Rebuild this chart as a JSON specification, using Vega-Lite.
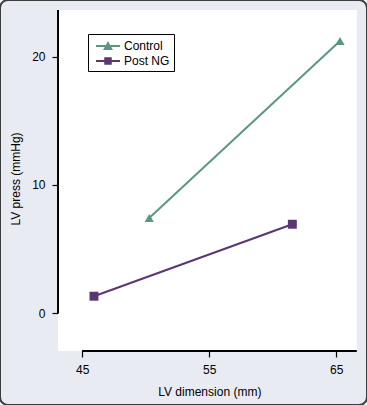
{
  "$schema": "https://vega.github.io/schema/vega-lite/v6.json",
  "width": 367,
  "height": 405,
  "autosize": {"type": "none"},
  "padding": 0,
  "background": "white",
  "view": {"fill": "#e8ecf2", "stroke": "#3c3c3c", "strokeWidth": 2, "cornerRadius": 8},
  "config": {
    "font": "Liberation Sans",
    "axis": {
      "domain": false,
      "grid": false,
      "labelFont": "Liberation Sans",
      "labelFontSize": 12,
      "labelColor": "black",
      "tickColor": "black",
      "tickWidth": 1.2,
      "titleFont": "Liberation Sans",
      "titleFontSize": 12,
      "titleFontWeight": "normal",
      "titleColor": "black"
    },
    "legend": {
      "labelFont": "Liberation Sans",
      "labelFontSize": 12,
      "labelColor": "black"
    }
  },
  "data": {
    "values": [
      {"series": "Control", "dimension": 50.27, "pressure": 7.42},
      {"series": "Control", "dimension": 65.29, "pressure": 21.23},
      {"series": "Post NG", "dimension": 45.92, "pressure": 1.33},
      {"series": "Post NG", "dimension": 61.54, "pressure": 6.94}
    ]
  },
  "layer": [
    {
      "mark": {"type": "rect", "fill": "white", "stroke": null},
      "encoding": {
        "x": {
          "datum": 43.1,
          "type": "quantitative",
          "scale": {"domain": [38.52, 67.42], "nice": false, "zero": false},
          "axis": {
            "orient": "bottom",
            "offset": -54,
            "values": [45, 55, 65],
            "tickSize": 6,
            "labelPadding": 7,
            "title": "LV dimension (mm)",
            "titleX": 209.3,
            "titleY": 44,
            "titleBaseline": "alphabetic",
            "titleAlign": "center"
          }
        },
        "x2": {"datum": 66.59},
        "y": {
          "datum": -2.94,
          "type": "quantitative",
          "scale": {"domain": [-7.15, 24.42], "nice": false, "zero": false},
          "axis": {
            "orient": "left",
            "offset": -58,
            "values": [0, 10, 20],
            "tickSize": 6,
            "labelPadding": 7,
            "title": "LV press (mmHg)",
            "titleAngle": -90,
            "titleX": -38.5,
            "titleY": 178.5,
            "titleBaseline": "alphabetic",
            "titleAlign": "center"
          }
        },
        "y2": {"datum": 23.64}
      }
    },
    {
      "mark": {"type": "rule", "color": "black", "strokeWidth": 1.5},
      "encoding": {
        "x": {"datum": 43.1, "type": "quantitative"},
        "y": {"datum": 0, "type": "quantitative"},
        "y2": {"datum": 23.64}
      }
    },
    {
      "mark": {"type": "rule", "color": "black", "strokeWidth": 1.5},
      "encoding": {
        "y": {"datum": -2.94, "type": "quantitative"},
        "x": {"datum": 45, "type": "quantitative"},
        "x2": {"datum": 66.59}
      }
    },
    {
      "mark": {"type": "line", "strokeWidth": 2},
      "encoding": {
        "x": {"field": "dimension", "type": "quantitative"},
        "y": {"field": "pressure", "type": "quantitative"},
        "color": {
          "field": "series",
          "type": "nominal",
          "scale": {"domain": ["Control", "Post NG"], "range": ["#5b9683", "#5a3673"]},
          "legend": {
            "orient": "none",
            "legendX": 88,
            "legendY": 34,
            "title": null,
            "padding": 4,
            "fillColor": "white",
            "strokeColor": "black",
            "symbolSize": 256,
            "symbolOffset": 8,
            "labelOffset": 8,
            "rowPadding": 1,
            "encode": {
              "symbols": {
                "update": {
                  "shape": {"signal": "datum.value === 'Control' ? 'M-1.5,-0.13H1.5V0.13H-1.5Z M0,-0.62L0.62,0.5H-0.62Z' : 'M-1.5,-0.13H1.5V0.13H-1.5Z M-0.47,-0.47H0.47V0.47H-0.47Z'"},
                  "fill": {"scale": "color", "field": "value"},
                  "stroke": {"value": "transparent"},
                  "strokeWidth": {"value": 0},
                  "opacity": {"value": 1},
                  "size": {"value": 256}
                }
              }
            }
          }
        }
      }
    },
    {
      "transform": [{"filter": "datum.series === 'Control'"}],
      "mark": {"type": "point", "filled": true, "opacity": 1, "shape": "triangle-up", "size": 85},
      "encoding": {
        "x": {"field": "dimension", "type": "quantitative"},
        "y": {"field": "pressure", "type": "quantitative"},
        "color": {"field": "series", "type": "nominal"}
      }
    },
    {
      "transform": [{"filter": "datum.series === 'Post NG'"}],
      "mark": {"type": "point", "filled": true, "opacity": 1, "shape": "square", "size": 80},
      "encoding": {
        "x": {"field": "dimension", "type": "quantitative"},
        "y": {"field": "pressure", "type": "quantitative"},
        "color": {"field": "series", "type": "nominal"}
      }
    }
  ]
}
